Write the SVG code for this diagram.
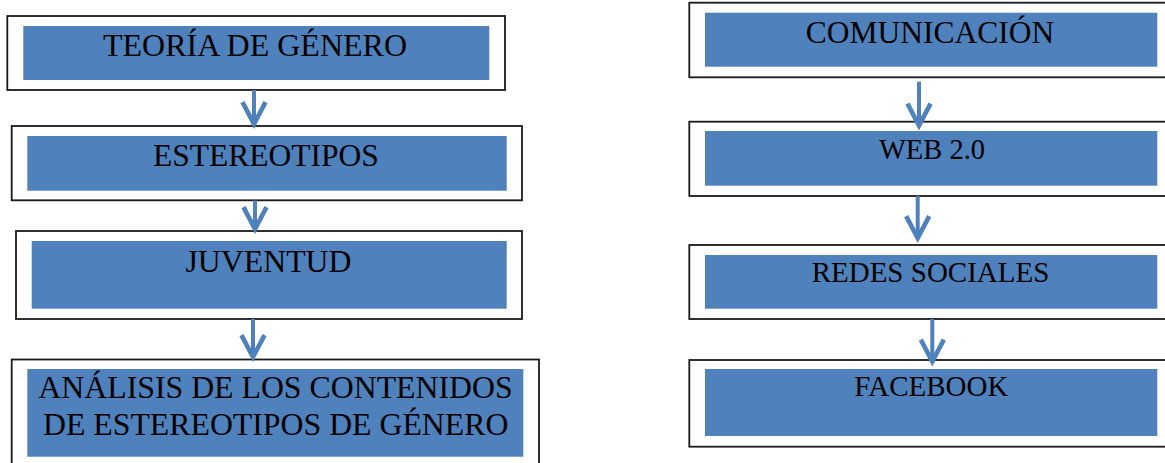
<svg xmlns="http://www.w3.org/2000/svg" width="1165" height="463" viewBox="0 0 1165 463">
<style>
.outer{fill:#fff;stroke:#1a1a1a;stroke-width:1.8}
.inner{fill:#4f81bd}
.lbl{font-family:"Liberation Serif","Times New Roman",serif;font-size:31.8px;fill:#000;text-anchor:middle}
.conn{stroke:#4f81bd;stroke-width:4;fill:none}
</style>
<defs>
<marker id="arr" markerUnits="userSpaceOnUse" markerWidth="30" markerHeight="30" viewBox="-22 -13 26 26" refX="0" refY="0" orient="auto" overflow="visible">
<path d="M-19,-10 L0,0 L-19,10" fill="none" stroke="#4f81bd" stroke-width="4"/>
</marker>
</defs>
<rect width="1165" height="463" fill="#fff"/>
<g id="n1">
<rect class="outer" x="7.3" y="16" width="497.7" height="74"/>
<rect class="inner" x="23.3" y="26" width="466" height="54"/>
<text class="lbl" x="255" y="56" style="font-size:32px">TEORÍA DE GÉNERO</text>
</g>
<g id="n2">
<rect class="outer" x="11.7" y="126" width="510.3" height="74.3"/>
<rect class="inner" x="27.3" y="136" width="479.4" height="54.7"/>
<text class="lbl" x="266" y="165.7" style="font-size:31.5px">ESTEREOTIPOS</text>
</g>
<g id="n3">
<rect class="outer" x="16" y="231" width="506" height="88"/>
<rect class="inner" x="31.7" y="241" width="475" height="67.7"/>
<text class="lbl" x="268.5" y="271.7">JUVENTUD</text>
</g>
<g id="n4">
<rect class="outer" x="11.7" y="359.5" width="527.3" height="106"/>
<rect class="inner" x="27.3" y="369" width="496" height="87.7"/>
<text class="lbl" x="275.5" y="398.3">ANÁLISIS DE LOS CONTENIDOS</text>
<text class="lbl" x="275.7" y="435">DE ESTEREOTIPOS DE GÉNERO</text>
</g>
<g id="m1">
<rect class="outer" x="689.3" y="2.7" width="477" height="74.6"/>
<rect class="inner" x="705" y="12.7" width="452.3" height="54"/>
<text class="lbl" x="930" y="43.3" style="font-size:31.5px">COMUNICACIÓN</text>
</g>
<g id="m2">
<rect class="outer" x="689.3" y="121.7" width="477" height="74.3"/>
<rect class="inner" x="705" y="131" width="452.3" height="54.7"/>
<text class="lbl" x="932" y="159.3" style="font-size:28.5px">WEB 2.0</text>
</g>
<g id="m3">
<rect class="outer" x="689.3" y="245" width="477" height="74"/>
<rect class="inner" x="705" y="255" width="452.3" height="53.7"/>
<text class="lbl" x="930.5" y="281.7" style="font-size:29px">REDES SOCIALES</text>
</g>
<g id="m4">
<rect class="outer" x="689.3" y="360" width="477" height="86.7"/>
<rect class="inner" x="705" y="369" width="452.3" height="67"/>
<text class="lbl" x="931.3" y="396" style="font-size:29px">FACEBOOK</text>
</g>
<g id="connectors">
<line class="conn" x1="254" y1="90" x2="254" y2="124" marker-end="url(#arr)"/>
<line class="conn" x1="255" y1="200.5" x2="255" y2="229" marker-end="url(#arr)"/>
<line class="conn" x1="253" y1="319" x2="253" y2="357" marker-end="url(#arr)"/>
<line class="conn" x1="919" y1="81.7" x2="919" y2="125.5" marker-end="url(#arr)"/>
<line class="conn" x1="917.7" y1="196" x2="917.7" y2="238" marker-end="url(#arr)"/>
<line class="conn" x1="932.3" y1="319" x2="932.3" y2="361.5" marker-end="url(#arr)"/>
</g>
</svg>
